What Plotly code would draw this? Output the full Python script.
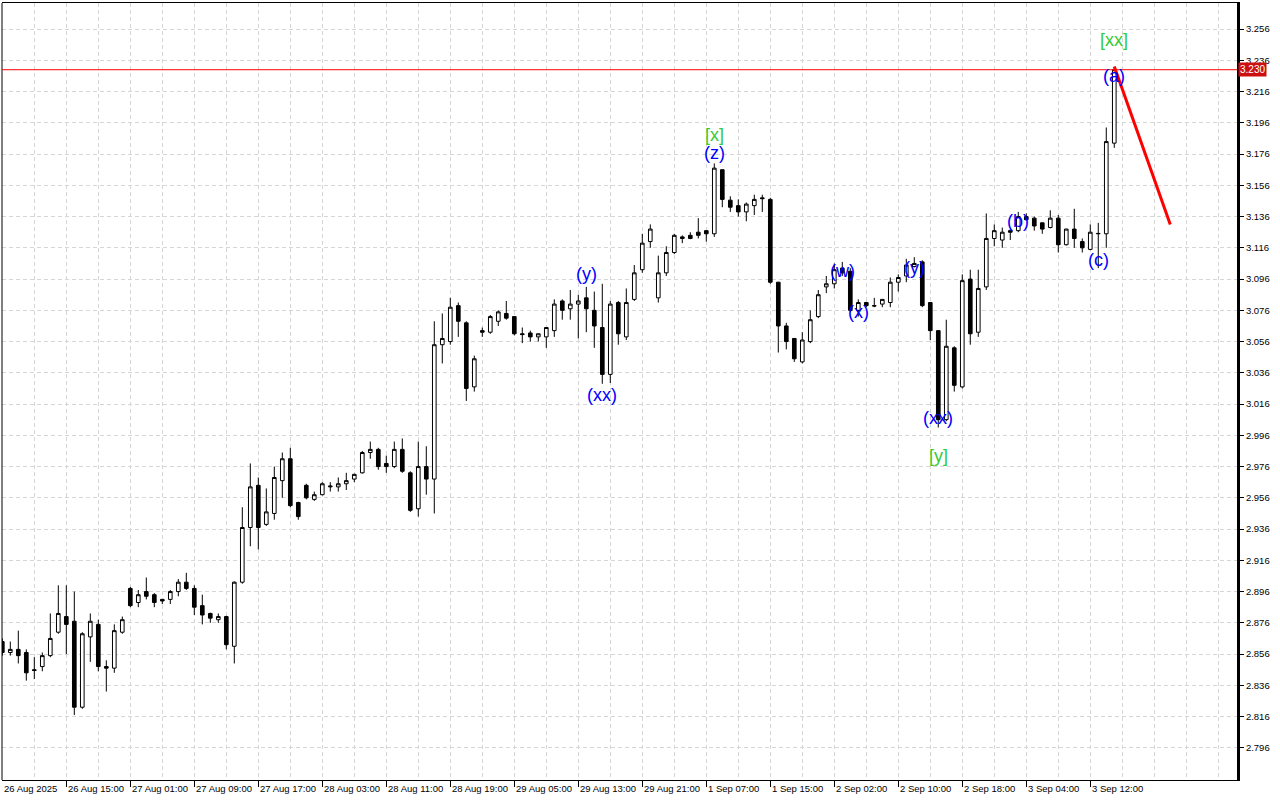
import plotly.graph_objects as go

# ---- OHLC data (hourly bars) ----
opens = [2.864, 2.857, 2.859, 2.857, 2.846, 2.848, 2.855, 2.870, 2.880, 2.877,
         2.822, 2.867, 2.875, 2.848, 2.847, 2.870, 2.898, 2.889, 2.896, 2.894,
         2.891, 2.891, 2.896, 2.902, 2.898, 2.887, 2.882, 2.878, 2.880, 2.861,
         2.902, 2.937, 2.964, 2.939, 2.946, 2.967, 2.981, 2.953, 2.964, 2.955,
         2.958, 2.963, 2.963, 2.965, 2.968, 2.972, 2.985, 2.987, 2.978, 2.976,
         2.987, 2.972, 2.949, 2.976, 2.968, 3.054, 3.056, 3.079, 3.068, 3.027,
         3.063, 3.062, 3.069, 3.074, 3.072, 3.061, 3.0615, 3.059, 3.059, 3.063,
         3.082, 3.077, 3.080, 3.084, 3.076, 3.065, 3.035, 3.081, 3.059, 3.083,
         3.102, 3.120, 3.084, 3.100, 3.113, 3.123, 3.124, 3.126, 3.127, 3.125,
         3.166, 3.1465, 3.143, 3.139, 3.143, 3.148, 3.147, 3.094, 3.066, 3.058,
         3.043, 3.056, 3.072, 3.091, 3.093, 3.103, 3.101, 3.076, 3.081, 3.079,
         3.080, 3.081, 3.094, 3.098, 3.104, 3.107, 3.081, 3.063, 3.006, 3.052,
         3.027, 3.096, 3.062, 3.091, 3.122, 3.121, 3.127, 3.127, 3.136, 3.135,
         3.132, 3.129, 3.135, 3.118, 3.128, 3.120, 3.115, 3.125, 3.125, 3.183]
highs = [2.866, 2.864, 2.871, 2.859, 2.854, 2.857, 2.882, 2.900, 2.900, 2.896,
         2.870, 2.882, 2.878, 2.852, 2.875, 2.880, 2.899, 2.897, 2.905, 2.895,
         2.891, 2.897, 2.904, 2.908, 2.900, 2.894, 2.8825, 2.882, 2.8805, 2.9025,
         2.950, 2.978, 2.969, 2.962, 2.976, 2.985, 2.988, 2.9535, 2.965, 2.960,
         2.966, 2.966, 2.969, 2.972, 2.9715, 2.986, 2.992, 2.988, 2.983, 2.992,
         2.994, 2.973, 2.992, 2.989, 3.069, 3.074, 3.084, 3.081, 3.069, 3.047,
         3.065, 3.073, 3.076, 3.082, 3.0722, 3.065, 3.063, 3.0612, 3.065, 3.083,
         3.083, 3.089, 3.086, 3.091, 3.088, 3.093, 3.082, 3.082, 3.090, 3.105,
         3.125, 3.131, 3.111, 3.117, 3.125, 3.124, 3.126, 3.135, 3.1272, 3.170,
         3.1662, 3.149, 3.147, 3.145, 3.150, 3.150, 3.148, 3.0942, 3.068, 3.0582,
         3.062, 3.076, 3.089, 3.098, 3.106, 3.107, 3.103, 3.083, 3.0815, 3.084,
         3.0832, 3.097, 3.099, 3.109, 3.110, 3.108, 3.0812, 3.0632, 3.070, 3.053,
         3.099, 3.102, 3.102, 3.138, 3.131, 3.129, 3.128, 3.139, 3.138, 3.136,
         3.1322, 3.140, 3.137, 3.1282, 3.141, 3.122, 3.131, 3.132, 3.193, 3.231]
lows = [2.855, 2.855, 2.850, 2.839, 2.840, 2.845, 2.854, 2.869, 2.856, 2.817,
        2.821, 2.851, 2.845, 2.832, 2.844, 2.869, 2.886, 2.886, 2.891, 2.886,
        2.888, 2.888, 2.893, 2.897, 2.881, 2.875, 2.876, 2.876, 2.859, 2.850,
        2.901, 2.925, 2.923, 2.938, 2.942, 2.956, 2.950, 2.942, 2.955, 2.954,
        2.9575, 2.960, 2.960, 2.961, 2.966, 2.9715, 2.981, 2.974, 2.972, 2.975,
        2.972, 2.947, 2.944, 2.958, 2.946, 3.042, 3.054, 3.059, 3.018, 3.024,
        3.059, 3.061, 3.066, 3.070, 3.060, 3.055, 3.056, 3.056, 3.052, 3.059,
        3.070, 3.070, 3.058, 3.062, 3.052, 3.029, 3.0295, 3.054, 3.057, 3.082,
        3.100, 3.116, 3.081, 3.098, 3.112, 3.119, 3.1215, 3.122, 3.120, 3.123,
        3.142, 3.139, 3.136, 3.133, 3.137, 3.139, 3.093, 3.049, 3.051, 3.043,
        3.042, 3.055, 3.071, 3.087, 3.090, 3.098, 3.075, 3.072, 3.078, 3.078,
        3.078, 3.078, 3.088, 3.094, 3.1035, 3.078, 3.057, 3.001, 3.005, 3.024,
        3.026, 3.054, 3.059, 3.089, 3.117, 3.116, 3.121, 3.126, 3.1335, 3.127,
        3.125, 3.1285, 3.113, 3.1175, 3.116, 3.113, 3.1145, 3.103, 3.116, 3.180]
closes = [2.857, 2.859, 2.855, 2.844, 2.8455, 2.855, 2.866, 2.882, 2.875, 2.822,
          2.869, 2.877, 2.848, 2.847, 2.871, 2.878, 2.887, 2.894, 2.893, 2.889,
          2.890, 2.896, 2.902, 2.898, 2.886, 2.881, 2.879, 2.880, 2.862, 2.902,
          2.937, 2.963, 2.937, 2.947, 2.969, 2.981, 2.951, 2.944, 2.956, 2.958,
          2.965, 2.9635, 2.965, 2.967, 2.971, 2.985, 2.987, 2.976, 2.976, 2.987,
          2.973, 2.948, 2.976, 2.968, 3.054, 3.058, 3.078, 3.069, 3.026, 3.045,
          3.062, 3.072, 3.075, 3.071, 3.061, 3.0605, 3.059, 3.061, 3.065, 3.080,
          3.076, 3.080, 3.082, 3.077, 3.066, 3.035, 3.080, 3.061, 3.081, 3.100,
          3.119, 3.128, 3.100, 3.113, 3.124, 3.122, 3.122, 3.124, 3.125, 3.167,
          3.147, 3.142, 3.139, 3.144, 3.147, 3.1475, 3.094, 3.066, 3.056, 3.045,
          3.057, 3.070, 3.086, 3.093, 3.102, 3.100, 3.076, 3.081, 3.079, 3.0788,
          3.083, 3.094, 3.097, 3.105, 3.106, 3.079, 3.063, 3.006, 3.053, 3.028,
          3.095, 3.061, 3.090, 3.122, 3.127, 3.126, 3.126, 3.136, 3.134, 3.130,
          3.128, 3.135, 3.118, 3.128, 3.122, 3.116, 3.126, 3.1252, 3.184, 3.230]
bars = list(range(len(opens)))

# ---- time axis labels (every 8 bars) ----
tick_bars = [0, 8, 16, 24, 32, 40, 48, 56, 64, 72, 80, 88, 96, 104, 112, 120, 128, 136]
tick_labels = ["26 Aug 2025", "26 Aug 15:00", "27 Aug 01:00", "27 Aug 09:00",
               "27 Aug 17:00", "28 Aug 03:00", "28 Aug 11:00", "28 Aug 19:00",
               "29 Aug 05:00", "29 Aug 13:00", "29 Aug 21:00", "1 Sep 07:00",
               "1 Sep 15:00", "2 Sep 02:00", "2 Sep 10:00", "2 Sep 18:00",
               "3 Sep 04:00", "3 Sep 12:00"]

# ---- price axis ticks ----
price_ticks = [2.796, 2.816, 2.836, 2.856, 2.876, 2.896, 2.916, 2.936, 2.956, 2.976,
               2.996, 3.016, 3.036, 3.056, 3.076, 3.096, 3.116, 3.136, 3.156, 3.176,
               3.196, 3.216, 3.236, 3.256]
price_tick_labels = ["2.796", "2.816", "2.836", "2.856", "2.876", "2.896", "2.916",
                     "2.936", "2.956", "2.976", "2.996", "3.016", "3.036", "3.056",
                     "3.076", "3.096", "3.116", "3.136", "3.156", "3.176", "3.196",
                     "3.216", "3.236", "3.256"]

# ---- wave labels ----
wave_text = ["[x]", "(z)", "(y)", "(xx)", "(w)", "(x)", "(y)", "(xx)", "[y]",
             "(b)", "(c)", "(a)", "[xx]"]
wave_bar = [89, 89, 73, 75, 105, 107, 114, 117, 117, 127, 137, 139, 139]
wave_price = [3.188, 3.177, 3.099, 3.022, 3.101, 3.075, 3.103, 3.007, 2.983,
              3.133, 3.108, 3.226, 3.249]
wave_is_major = [True, False, False, False, False, False, False, False, True,
                 False, False, False, True]

bid_price = 3.230
bid_label = "3.230"
forecast_bars = [139, 146]
forecast_prices = [3.232, 3.131]

GRID = "#d6d6d6"
DASH = "4px,3px"
FONT = "Liberation Sans"

fig = go.Figure()
fig.add_trace(go.Candlestick(
    x=bars, open=opens, high=highs, low=lows, close=closes,
    increasing=dict(line=dict(color="black", width=1), fillcolor="white"),
    decreasing=dict(line=dict(color="black", width=1), fillcolor="black"),
    whiskerwidth=0, showlegend=False, hoverinfo="skip"))
fig.add_trace(go.Scatter(
    x=forecast_bars, y=forecast_prices, mode="lines",
    line=dict(color="#ff0000", width=3), showlegend=False, hoverinfo="skip"))

annotations = []
for t, b, p, major in zip(wave_text, wave_bar, wave_price, wave_is_major):
    annotations.append(dict(
        x=b, y=p, xref="x", yref="y", text=t, showarrow=False,
        xanchor="center", yanchor="middle",
        font=dict(family=FONT, size=18, color="#33cc33" if major else "#0000ff")))
for b, t in zip(tick_bars, tick_labels):
    annotations.append(dict(
        x=b, y=0, xref="x", yref="paper", text=t, showarrow=False,
        xanchor="left", yanchor="top", yshift=-1, xshift=0,
        font=dict(family=FONT, size=9.5, color="black")))
annotations.append(dict(
    x=1, y=bid_price, xref="paper", yref="y", text=bid_label, showarrow=False,
    xanchor="left", yanchor="middle", xshift=1, bgcolor="#cc1010", borderpad=1,
    font=dict(family=FONT, size=10, color="white")))

fig.update_layout(
    width=1280, height=800,
    margin=dict(l=2, r=43, t=3, b=20),
    paper_bgcolor="white", plot_bgcolor="white",
    boxgap=0.35,
    xaxis=dict(
        range=[-0.0375, 154.34], tickmode="array", tickvals=tick_bars[1:],
        showticklabels=False, ticks="outside", ticklen=6, tickcolor="black",
        showgrid=True, gridcolor=GRID, griddash=DASH, gridwidth=1,
        zeroline=False, showline=True, linecolor="black", linewidth=1, mirror=True,
        rangeslider=dict(visible=False),
        minor=dict(tickmode="linear", tick0=0, dtick=4, showgrid=True,
                   gridcolor=GRID, griddash=DASH, gridwidth=1, ticks="")),
    yaxis=dict(
        range=[2.7754, 3.2727], side="right", tickmode="array",
        tickvals=price_ticks, ticktext=price_tick_labels,
        ticks="outside", ticklen=4, tickcolor="black",
        showgrid=True, gridcolor=GRID, griddash=DASH, gridwidth=1,
        zeroline=False, showline=True, linecolor="black", linewidth=3,
        tickfont=dict(family=FONT, size=9.5, color="black")),
    shapes=[
        dict(type="line", xref="paper", yref="paper", x0=0, x1=0, y0=0, y1=1,
             line=dict(color="black", width=1)),
        dict(type="line", xref="paper", yref="y", x0=0, x1=1, y0=bid_price, y1=bid_price,
             line=dict(color="#ff0000", width=1)),
    ],
    annotations=annotations,
    showlegend=False,
)

fig.write_html("out.html",
               config={"displayModeBar": False},
               post_script="document.body.style.margin='0';document.body.style.overflow='hidden';")
